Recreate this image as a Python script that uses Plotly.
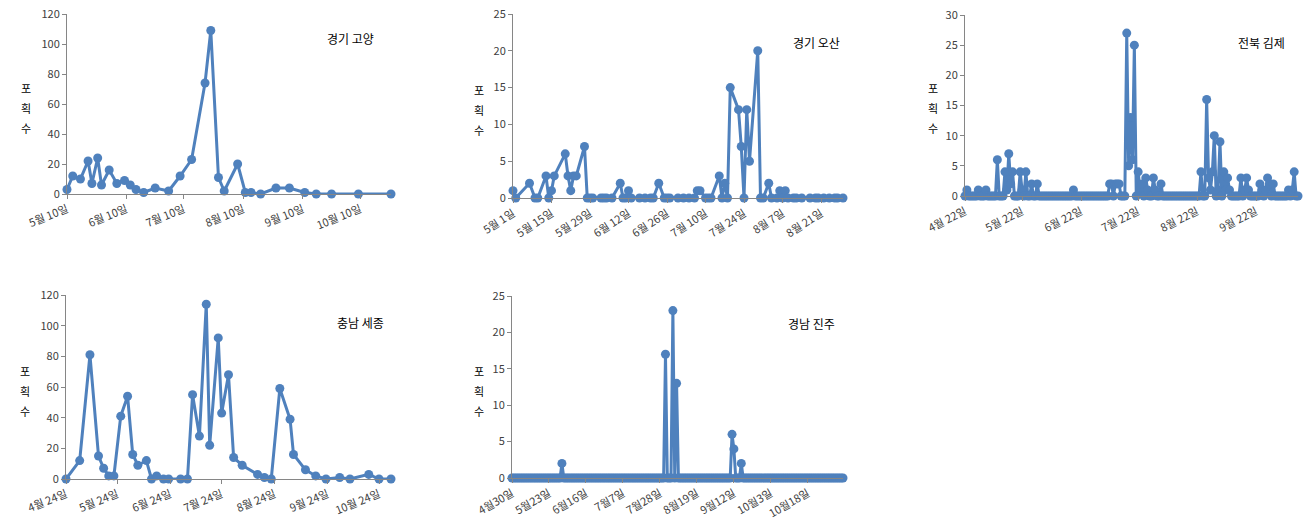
import pandas as pd
import plotly.graph_objects as go

W, H = 1309, 528
BLUE = "#4F81BD"
AXC = "#868686"
FONT = "Noto Sans CJK KR"

# ---- 경기 고양 ----
goyang_dates = ["2013-05-10", "2013-05-13", "2013-05-17", "2013-05-21", "2013-05-23", "2013-05-26",
                "2013-05-28", "2013-06-01", "2013-06-05", "2013-06-09", "2013-06-12", "2013-06-15",
                "2013-06-19", "2013-06-25", "2013-07-02", "2013-07-08", "2013-07-14", "2013-07-21",
                "2013-07-24", "2013-07-28", "2013-07-31", "2013-08-07", "2013-08-11", "2013-08-14",
                "2013-08-19", "2013-08-27", "2013-09-03", "2013-09-11", "2013-09-17", "2013-09-25",
                "2013-10-09", "2013-10-26"]
goyang_vals = [3, 12, 10, 22, 7, 24, 6, 16, 7, 9, 6, 3, 1, 4, 2, 12, 23, 74, 109, 11, 2, 20,
               1, 1, 0, 4, 4, 1, 0, 0, 0, 0]
goyang_tickvals = ["2013-05-10", "2013-06-10", "2013-07-10", "2013-08-10", "2013-09-10", "2013-10-10"]
goyang_ticktext = ["5월 10일", "6월 10일", "7월 10일", "8월 10일", "9월 10일", "10월 10일"]

# ---- 경기 오산 ----
osan_dates = ["2013-05-01", "2013-05-02", "2013-05-07", "2013-05-09", "2013-05-10", "2013-05-13",
              "2013-05-14", "2013-05-15", "2013-05-16", "2013-05-20", "2013-05-21", "2013-05-22",
              "2013-05-23", "2013-05-24", "2013-05-27", "2013-05-28", "2013-05-29", "2013-05-30",
              "2013-06-02", "2013-06-03", "2013-06-04", "2013-06-06", "2013-06-09", "2013-06-10",
              "2013-06-11", "2013-06-12", "2013-06-13", "2013-06-16", "2013-06-18", "2013-06-20",
              "2013-06-21", "2013-06-23", "2013-06-25", "2013-06-26", "2013-06-27", "2013-06-30",
              "2013-07-02", "2013-07-04", "2013-07-06", "2013-07-07", "2013-07-08", "2013-07-10",
              "2013-07-11", "2013-07-12", "2013-07-15", "2013-07-16", "2013-07-17", "2013-07-18",
              "2013-07-19", "2013-07-22", "2013-07-23", "2013-07-24", "2013-07-25", "2013-07-26",
              "2013-07-29", "2013-07-30", "2013-07-31", "2013-08-02", "2013-08-03", "2013-08-05",
              "2013-08-06", "2013-08-07", "2013-08-08", "2013-08-09", "2013-08-11", "2013-08-12",
              "2013-08-14", "2013-08-17", "2013-08-19", "2013-08-20", "2013-08-22", "2013-08-24",
              "2013-08-26", "2013-08-27", "2013-08-29"]
osan_vals = [1, 0, 2, 0, 0, 3, 0, 1, 3, 6, 3, 1, 3, 3, 7, 0, 0, 0,
             0, 0, 0, 0, 2, 0, 0, 1, 0, 0, 0, 0, 0, 2, 0, 0, 0, 0,
             0, 0, 0, 1, 1, 0, 0, 0, 3, 0, 2, 0, 15, 12, 7, 0, 12, 5,
             20, 0, 0, 2, 0, 0, 1, 0, 1, 0, 0, 0, 0, 0, 0, 0, 0, 0,
             0, 0, 0]
osan_tickvals = ["2013-05-01", "2013-05-15", "2013-05-29", "2013-06-12", "2013-06-26",
                 "2013-07-10", "2013-07-24", "2013-08-07", "2013-08-21"]
osan_ticktext = ["5월 1일", "5월 15일", "5월 29일", "6월 12일", "6월 26일",
                 "7월 10일", "7월 24일", "8월 7일", "8월 21일"]

# ---- 전북 김제 (daily from 4월 22일) ----
gimje_start = "2013-04-22"
gimje_vals = [0, 1, 0, 0, 0, 0, 0, 1, 0, 0, 0, 1, 0, 0, 0, 0, 0, 6, 0, 0,
              0, 4, 1, 7, 2, 4, 0, 0, 0, 4, 1, 0, 4, 0, 0, 2, 0, 0, 2, 0,
              0, 0, 0, 0, 0, 0, 0, 0, 0, 0, 0, 0, 0, 0, 0, 0, 0, 1, 0, 0,
              0, 0, 0, 0, 0, 0, 0, 0, 0, 0, 0, 0, 0, 0, 0, 0, 2, 2, 0, 2,
              2, 2, 0, 0, 0, 27, 5, 13, 6, 25, 0, 4, 1, 2, 0, 3, 1, 0, 0, 3,
              1, 0, 0, 2, 0, 0, 0, 0, 0, 0, 0, 0, 0, 0, 0, 0, 0, 0, 0, 0,
              0, 0, 0, 0, 4, 0, 0, 16, 3, 1, 4, 10, 0, 1, 9, 0, 4, 1, 3, 1,
              0, 0, 0, 0, 0, 3, 0, 1, 3, 1, 0, 0, 0, 0, 0, 2, 1, 0, 1, 3,
              2, 0, 2, 0, 0, 0, 0, 0, 0, 0, 1, 0, 1, 4, 0, 0]
gimje_tickvals = ["2013-04-22", "2013-05-22", "2013-06-22", "2013-07-22", "2013-08-22", "2013-09-22"]
gimje_ticktext = ["4월 22일", "5월 22일", "6월 22일", "7월 22일", "8월 22일", "9월 22일"]

# ---- 충남 세종 ----
sejong_dates = ["2013-04-24", "2013-05-02", "2013-05-08", "2013-05-13", "2013-05-16", "2013-05-19",
                "2013-05-22", "2013-05-26", "2013-05-30", "2013-06-02", "2013-06-05", "2013-06-10",
                "2013-06-13", "2013-06-16", "2013-06-20", "2013-06-23", "2013-06-30", "2013-07-04",
                "2013-07-07", "2013-07-11", "2013-07-15", "2013-07-17", "2013-07-22", "2013-07-24",
                "2013-07-28", "2013-07-31", "2013-08-05", "2013-08-14", "2013-08-18", "2013-08-22",
                "2013-08-27", "2013-09-02", "2013-09-04", "2013-09-11", "2013-09-17", "2013-09-23",
                "2013-10-01", "2013-10-07", "2013-10-18", "2013-10-24", "2013-10-31"]
sejong_vals = [0, 12, 81, 15, 7, 2, 2, 41, 54, 16, 9, 12, 0, 2, 0, 0, 0, 0,
               55, 28, 114, 22, 92, 43, 68, 14, 9, 3, 1, 0, 59, 39, 16, 6, 2, 0,
               1, 0, 3, 0, 0]
sejong_tickvals = ["2013-04-24", "2013-05-24", "2013-06-24", "2013-07-24", "2013-08-24",
                   "2013-09-24", "2013-10-24"]
sejong_ticktext = ["4월 24일", "5월 24일", "6월 24일", "7월 24일", "8월 24일", "9월 24일", "10월 24일"]

# ---- 경남 진주 (category axis, label every 20 samples) ----
jinju_vals = [0, 0, 0, 0, 0, 0, 0, 0, 0, 0, 0, 0, 0, 0, 0, 0, 0, 0, 0, 0,
              0, 0, 0, 0, 0, 0, 0, 2, 0, 0, 0, 0, 0, 0, 0, 0, 0, 0, 0, 0,
              0, 0, 0, 0, 0, 0, 0, 0, 0, 0, 0, 0, 0, 0, 0, 0, 0, 0, 0, 0,
              0, 0, 0, 0, 0, 0, 0, 0, 0, 0, 0, 0, 0, 0, 0, 0, 0, 0, 0, 0,
              0, 0, 0, 17, 0, 0, 0, 23, 0, 13, 0, 0, 0, 0, 0, 0, 0, 0, 0, 0,
              0, 0, 0, 0, 0, 0, 0, 0, 0, 0, 0, 0, 0, 0, 0, 0, 0, 0, 0, 6,
              4, 0, 0, 0, 2, 0, 0, 0, 0, 0, 0, 0, 0, 0, 0, 0, 0, 0, 0, 0,
              0, 0, 0, 0, 0, 0, 0, 0, 0, 0, 0, 0, 0, 0, 0, 0, 0, 0, 0, 0,
              0, 0, 0, 0, 0, 0, 0, 0, 0, 0, 0, 0, 0, 0, 0, 0, 0, 0, 0, 0]
jinju_tickpos = [0, 20, 40, 60, 80, 100, 120, 140, 160]
jinju_ticktext = ["4월30일", "5월23일", "6월16일", "7월7일", "7월28일", "8월19일", "9월12일", "10월3일", "10월18일"]

titles = ["경기 고양", "경기 오산", "전북 김제", "충남 세종", "경남 진주"]
ytitle_chars = ["포", "획", "수"]

gimje_dates = pd.date_range(gimje_start, periods=len(gimje_vals), freq="D")
jinju_x = list(range(len(jinju_vals)))

series = [
    (goyang_dates, goyang_vals),
    (osan_dates, osan_vals),
    (gimje_dates, gimje_vals),
    (sejong_dates, sejong_vals),
    (jinju_x, jinju_vals),
]

# pixel layout (left, right, top-of-range, zero-line)
px_boxes = [
    (67, 391, 14, 194),
    (513, 843, 14, 198),
    (965, 1298, 15, 196),
    (66, 391, 295, 479),
    (512, 843, 296, 478),
]
yranges = [(0, 120, 20), (0, 25, 5), (0, 30, 5), (0, 120, 20), (0, 25, 5)]
tickangles = [-22, -33, -27, -22, -30]
title_pos = [(350, 38), (816, 42), (1261, 42), (360, 322), (811, 323)]
ylab_pos = [(26, 108), (479, 110), (933, 108), (25, 391), (479, 391)]

fig = go.Figure()
layout = dict(
    width=W, height=H, margin=dict(l=0, r=0, t=0, b=0, autoexpand=False),
    paper_bgcolor="white", plot_bgcolor="white", showlegend=False,
    font=dict(family=FONT, size=11, color="#404040"),
)
annotations = []

for i, ((xv, yv), box) in enumerate(zip(series, px_boxes)):
    n = "" if i == 0 else str(i + 1)
    xa, ya = "x" + n, "y" + n
    fig.add_trace(go.Scatter(
        x=list(xv), y=yv, xaxis=xa, yaxis=ya, mode="lines+markers",
        line=dict(color=BLUE, width=3),
        marker=dict(color=BLUE, size=9, symbol="circle"),
        cliponaxis=False,
    ))
    l, r, t, b = box
    ymin, ymax, dt = yranges[i]
    common_x = dict(
        domain=[l / W, r / W], anchor=ya, showgrid=False, zeroline=False, automargin=False,
        showline=True, linecolor=AXC, linewidth=1, ticks="outside", ticklen=4,
        tickcolor=AXC, tickangle=tickangles[i],
        tickfont=dict(family=FONT, size=11, color="#404040"),
    )
    if i == 0:
        common_x.update(type="date", range=[goyang_dates[0], goyang_dates[-1]],
                        tickmode="array", tickvals=goyang_tickvals, ticktext=goyang_ticktext)
    elif i == 1:
        common_x.update(type="date", range=[osan_dates[0], osan_dates[-1]],
                        tickmode="array", tickvals=osan_tickvals, ticktext=osan_ticktext)
    elif i == 2:
        common_x.update(type="date", range=[str(gimje_dates[0].date()), str(gimje_dates[-1].date())],
                        tickmode="array", tickvals=gimje_tickvals, ticktext=gimje_ticktext)
    elif i == 3:
        common_x.update(type="date", range=[sejong_dates[0], sejong_dates[-1]],
                        tickmode="array", tickvals=sejong_tickvals, ticktext=sejong_ticktext)
    else:
        common_x.update(type="linear", range=[0, len(jinju_vals) - 1],
                        tickmode="array", tickvals=jinju_tickpos, ticktext=jinju_ticktext)
    layout["xaxis" + n] = common_x
    layout["yaxis" + n] = dict(
        domain=[1 - b / H, 1 - t / H], anchor=xa, range=[ymin, ymax], automargin=False,
        tickmode="linear", tick0=0, dtick=dt, showgrid=False, zeroline=False,
        showline=True, linecolor=AXC, linewidth=1, ticks="outside", ticklen=4,
        tickcolor=AXC, tickfont=dict(family=FONT, size=11, color="#404040"),
    )
    tx, ty = title_pos[i]
    annotations.append(dict(
        text=titles[i], x=tx / W, y=1 - ty / H, xref="paper", yref="paper",
        showarrow=False, xanchor="center", yanchor="middle",
        font=dict(family=FONT, size=12, color="#000000"),
    ))
    lx, ly = ylab_pos[i]
    for k, ch in enumerate(ytitle_chars):
        annotations.append(dict(
            text=ch, x=lx / W, y=1 - (ly + (k - 1) * 20) / H, xref="paper", yref="paper",
            showarrow=False, xanchor="center", yanchor="middle",
            font=dict(family=FONT, size=11, color="#000000"),
        ))

layout["annotations"] = annotations
fig.update_layout(**layout)
fig.write_html("out.html")
